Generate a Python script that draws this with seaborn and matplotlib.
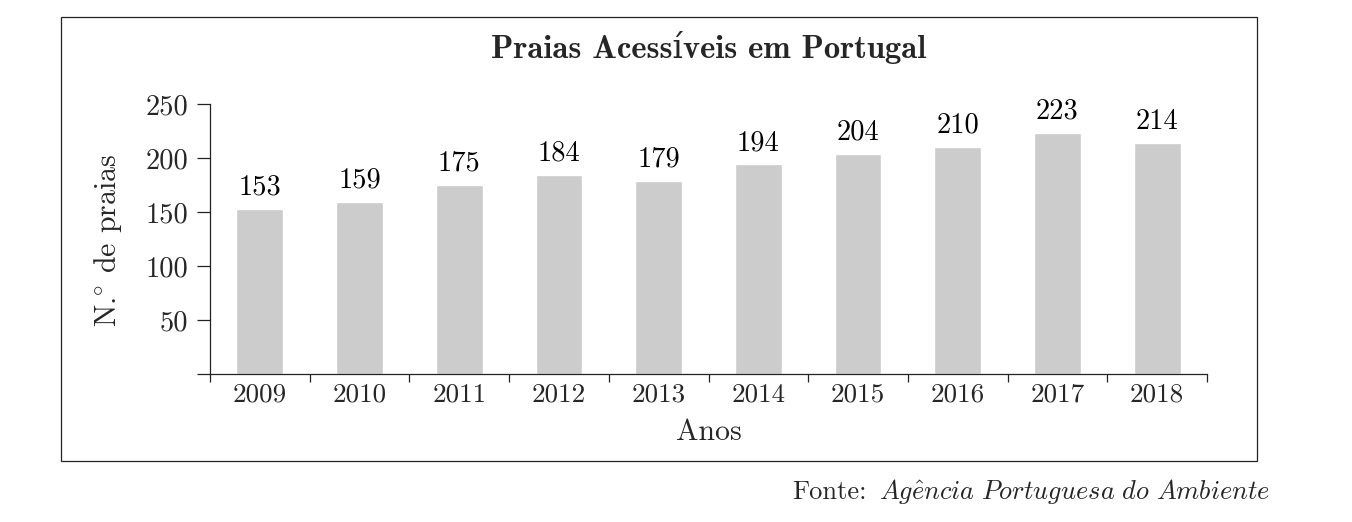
"""Praias Acessíveis em Portugal — bar chart, LaTeX/pgfplots look."""

import matplotlib
matplotlib.use('Agg')
import matplotlib.pyplot as plt
from matplotlib.patches import Rectangle
import seaborn as sns

# ── Data ─────────────────────────────────────────────────────────────────────
anos = ['2009', '2010', '2011', '2012', '2013',
        '2014', '2015', '2016', '2017', '2018']
n_praias = [153, 159, 175, 184, 179, 194, 204, 210, 223, 214]
y_ticks = [0, 50, 100, 150, 200, 250]
y_tick_labels = ['', '50', '100', '150', '200', '250']

# ── Style ────────────────────────────────────────────────────────────────────
sns.set_style('ticks')
plt.rcParams['font.family'] = ['cmr10', 'DejaVu Serif']
plt.rcParams['mathtext.fontset'] = 'cm'
plt.rcParams['axes.formatter.use_mathtext'] = True

FS = 19.5
INK = '#222222'
W, H = 1352, 522

fig = plt.figure(figsize=(W / 100, H / 100), dpi=100)
ax = fig.add_axes([210 / W, 1 - 374 / H, (1207 - 210) / W, (374 - 104) / H])

sns.barplot(x=anos, y=n_praias, color='#cccccc', width=0.47,
            saturation=1, ax=ax)
for c in ax.containers:
    ax.bar_label(c, fontsize=FS + 1, padding=6, color='black')

ax.set_xlim(-0.5, len(anos) - 0.5)
ax.set_ylim(0, 250)
for s in ('top', 'right'):
    ax.spines[s].set_visible(False)
for s in ('left', 'bottom'):
    ax.spines[s].set_color(INK)
    ax.spines[s].set_linewidth(0.9)

# y ticks, long and outward (0 tick extends the baseline)
ax.set_yticks(y_ticks)
ax.set_yticklabels(y_tick_labels, fontsize=FS + 1)
ax.tick_params(axis='y', length=9.4, width=0.9, color=INK, pad=6)

# x ticks at category boundaries, labels centred under bars
ax.set_xticks([i - 0.5 for i in range(len(anos) + 1)])
ax.set_xticklabels([])
ax.set_xticks(range(len(anos)), minor=True)
ax.set_xticklabels(anos, minor=True, fontsize=FS)
ax.tick_params(axis='x', which='major', length=5.8, width=0.9, color=INK)
ax.tick_params(axis='x', which='minor', length=0, pad=6)
ax.set_xlabel('')
ax.set_ylabel('')

# ── Texts ────────────────────────────────────────────────────────────────────
fig.text(709 / W, 1 - 48 / H, 'Praias Acessíveis em Portugal',
         family=['cmb10', 'DejaVu Serif'], fontsize=23.5,
         ha='center', va='center')
fig.text(709 / W, 1 - 432 / H, 'Anos', fontsize=21.5,
         ha='center', va='center')
fig.text(108 / W, 1 - 240 / H, r'N.$^{\circ}$ de praias', fontsize=21.5,
         rotation=90, ha='center', va='center')
src = fig.text(1270 / W, 1 - 492 / H,
               r'$\mathit{Ag\hat{e}ncia\ Portuguesa\ do\ Ambiente}$',
               fontsize=19, ha='right', va='center')
fig.canvas.draw()
x0 = src.get_window_extent().x0
fig.text((x0 - 12) / W, 1 - 492 / H, 'Fonte:', fontsize=19,
         ha='right', va='center')

# outer frame
fig.patches.append(Rectangle((61 / W, 1 - 461 / H), (1257 - 61) / W,
                             (461 - 17) / H, transform=fig.transFigure,
                             fill=False, edgecolor=INK, linewidth=0.9))

fig.savefig('out.png', dpi=100, facecolor='white')
